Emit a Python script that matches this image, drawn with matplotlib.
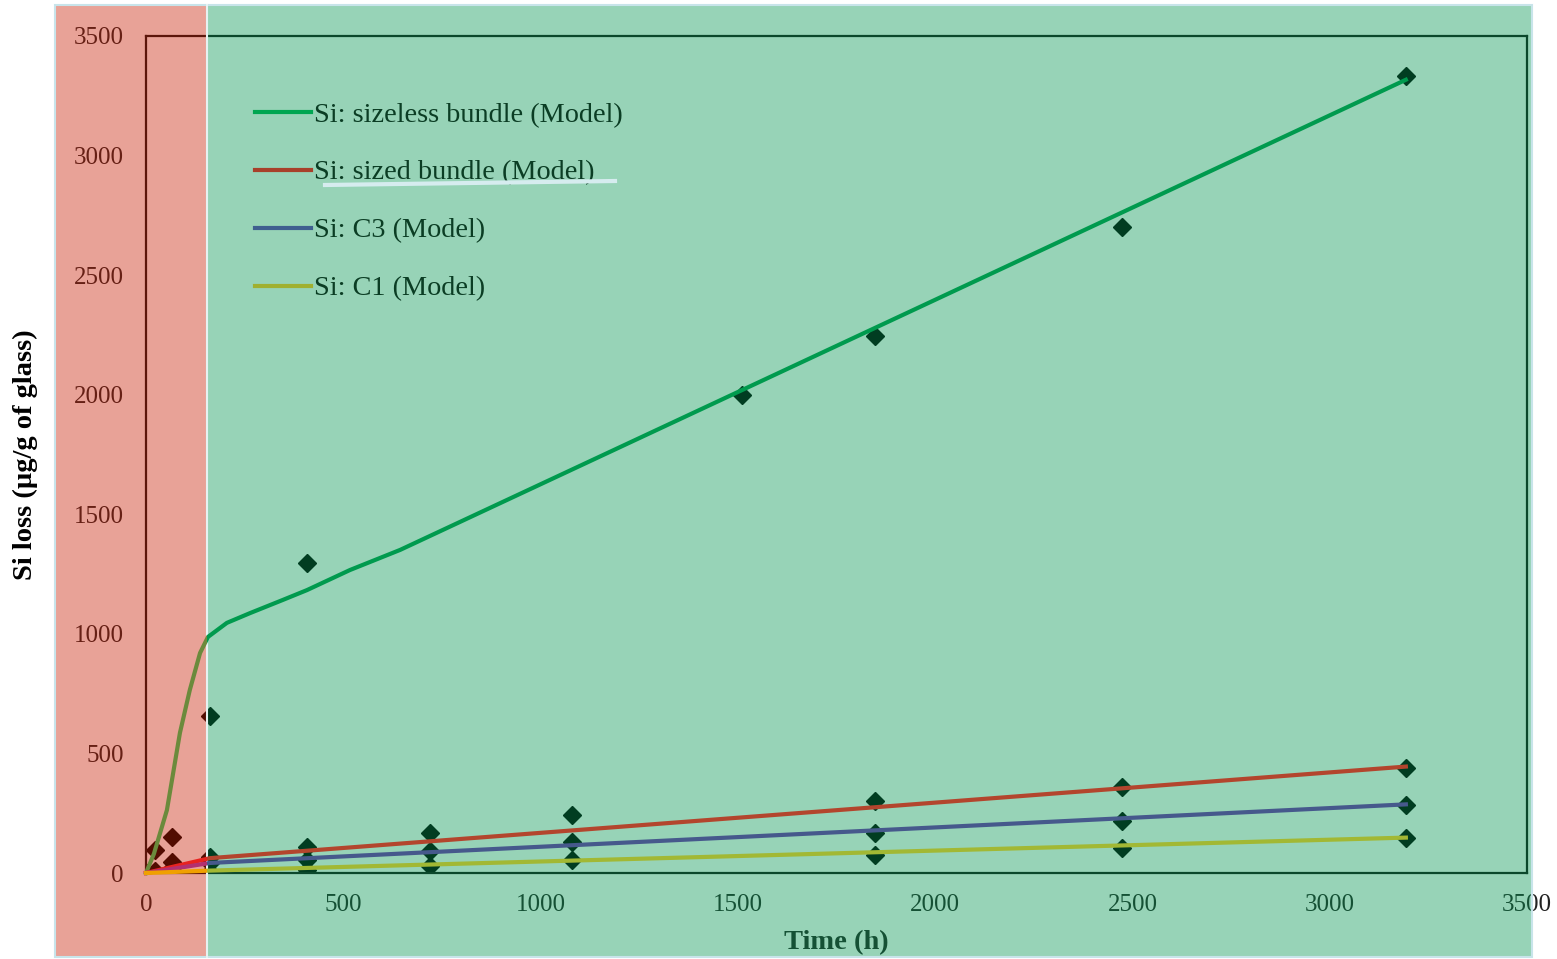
import matplotlib
matplotlib.use('Agg')
import matplotlib.pyplot as plt
from matplotlib.patches import Rectangle
from matplotlib.lines import Line2D

plt.rcParams['font.family'] = ['Liberation Serif', 'DejaVu Serif']

# measured Si loss (µg/g of glass) vs time (h)
t_sizeless = [0, 24, 66, 162, 408, 1510, 1847, 2473, 3193]
si_sizeless = [0, 96, 150, 657, 1297, 2000, 2246, 2702, 3333]
t_sized = [0, 24, 66, 162, 408, 720, 1080, 1847, 2473, 3193]
si_sized = [0, 10, 46, 65, 109, 167, 243, 301, 360, 439]
t_c3 = [0, 24, 66, 162, 408, 720, 1080, 1847, 2473, 3193]
si_c3 = [0, 5, 20, 40, 54, 92, 130, 167, 217, 284]
t_c1 = [0, 24, 66, 162, 408, 720, 1080, 1847, 2473, 3193]
si_c1 = [0, 2, 5, 5, 13, 30, 54, 75, 105, 146]

# model curves
tm_sizeless = [0, 20, 53, 86, 111, 137, 157, 205, 264, 347, 408, 517, 644, 3193]
m_sizeless = [0, 80, 263, 586, 765, 920, 987, 1046, 1087, 1142, 1183, 1267, 1351, 3317]
tm_sized = [0, 162, 3193]
m_sized = [0, 62, 445]
tm_c3 = [0, 162, 3193]
m_c3 = [0, 42, 287]
tm_c1 = [0, 162, 3193]
m_c1 = [0, 10, 148]

labels = ['Si: sizeless bundle (Model)', 'Si: sized bundle (Model)',
          'Si: C3 (Model)', 'Si: C1 (Model)']
ticks = [0, 500, 1000, 1500, 2000, 2500, 3000, 3500]

# line colours as seen over the green and red shaded areas
col_green = ['#009a4e', '#b3452d', '#46598c', '#a2b834']
col_red = ['#6b8a3c', '#e8231f', '#b23070', '#f0a000']
legend_cols = ['#00a651', '#a8402a', '#3f5f8f', '#a0b030']

W, H = 1557, 959
fig = plt.figure(figsize=(W / 100, H / 100), dpi=100)
fig.patch.set_facecolor('white')
pos = [146 / W, 1 - 873 / H, (1527 - 146) / W, (873 - 36) / H]

ax = fig.add_axes(pos, zorder=0)
ax.patch.set_alpha(0)
for s in ax.spines.values():
    s.set_color('#111111')
    s.set_linewidth(1.6)
ax.set_xlim(0, 3500)
ax.set_ylim(0, 3500)
ax.set_xticks(ticks)
ax.set_yticks(ticks)
ax.tick_params(length=0, labelsize=18, colors='#222222')
ax.tick_params(axis='y', pad=16)
ax.tick_params(axis='x', pad=15)
ax.set_xlabel('Time (h)', fontsize=20.5, fontweight='bold', color='#222222', va='center')
ax.set_ylabel('Si loss (µg/g of glass)', fontsize=20.5, fontweight='bold', color='black',
              va='center', ha='center')
ax.xaxis.set_label_coords(0.5, (873 - 943) / 837)
ax.yaxis.set_label_coords((25 - 146) / 1381, 0.5)

mk = dict(marker='D', markersize=9.5, color='black', linestyle='none')
ax.plot(t_sizeless, si_sizeless, **mk)
ax.plot(t_sized, si_sized, **mk)
ax.plot(t_c3, si_c3, **mk)
ax.plot(t_c1, si_c1, **mk)

# translucent shaded regions
y0, y1 = 1 - 957 / H, (957 - 5) / H
red_box = Rectangle((55 / W, y0), (207 - 55) / W, y1, transform=fig.transFigure,
                    facecolor=(201 / 255, 30 / 255, 4 / 255), alpha=0.41,
                    edgecolor='none', zorder=1)
green_box = Rectangle((207 / W, y0), (1532 - 207) / W, y1, transform=fig.transFigure,
                      facecolor=(4 / 255, 150 / 255, 82 / 255), alpha=0.41,
                      edgecolor='none', zorder=1)
fig.add_artist(red_box)
fig.add_artist(green_box)
frame = Rectangle((55 / W, y0), (1532 - 55) / W, y1, transform=fig.transFigure,
                  facecolor='none', edgecolor='#c8e4ea', linewidth=1.5, zorder=1.5)
fig.add_artist(frame)
fig.add_artist(Line2D([207 / W, 207 / W], [y0, y0 + y1], transform=fig.transFigure,
                      color='#e6f2f2', linewidth=1.5, zorder=1.5))

# model lines drawn above the shading
ax2 = fig.add_axes(pos, zorder=2)
ax2.set_xlim(0, 3500)
ax2.set_ylim(0, 3500)
ax2.axis('off')

models = [(tm_sizeless, m_sizeless), (tm_sized, m_sized), (tm_c3, m_c3), (tm_c1, m_c1)]
for i, (t, m) in enumerate(models):
    lg, = ax2.plot(t, m, color=col_green[i], linewidth=3)
    lg.set_clip_path(Rectangle((207 / W, 0), 1, 1, transform=fig.transFigure))
    lr, = ax2.plot(t, m, color=col_red[i], linewidth=3)
    lr.set_clip_path(Rectangle((0, 0), 207 / W, 1, transform=fig.transFigure))

handles = [Line2D([], [], color=c, linewidth=3) for c in legend_cols]
ax2.legend(handles, labels, loc='upper left', bbox_to_anchor=(255 / W, 1 - 102 / H),
           bbox_transform=fig.transFigure, frameon=False, fontsize=20.3,
           handlelength=2.0, handletextpad=0.1, labelspacing=1.14,
           borderpad=0, borderaxespad=0, labelcolor='#0b3d24')

# stray highlight stroke under the second legend entry
fig.add_artist(Line2D([325 / W, 615 / W], [1 - 185 / H, 1 - 181 / H],
                      transform=fig.transFigure, color='#d6ecef', linewidth=3, zorder=3))

fig.savefig('out.png', dpi=100)
